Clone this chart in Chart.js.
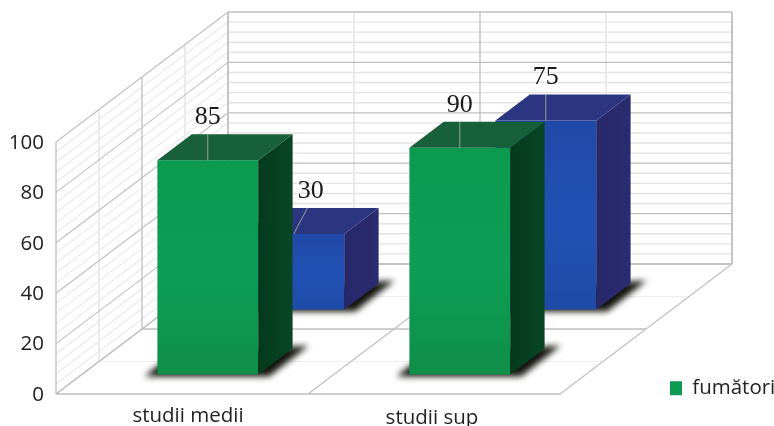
<!DOCTYPE html>
<html>
<head>
<meta charset="utf-8">
<title>fumători</title>
<script src="https://cdn.jsdelivr.net/npm/chart.js@4"></script>
<style>
    html, body { margin: 0; padding: 0; background: #fff; }
    #wrap { position: relative; width: 774px; height: 426px; overflow: hidden; }
</style>
</head>
<body>
<div id="wrap"><canvas id="chart" width="774" height="426"></canvas></div>
<script>
const categories = ["studii medii", "studii sup"];
const smokers = [85, 90];
const others = [30, 75];
const yTicks = [0, 20, 40, 60, 80, 100];

// how far the box recedes into the picture
const DEPTH_X = 172;
const DEPTH_Y = 130;
const SLOTS = 2;
const MINOR_STEP = 4;

const GREEN = { front: ["#0b9a50", "#0d9d54", "#0f8f49"], side: ["#043a1c", "#084626"], top: "#17603a" };
const BLUE = { front: ["#2049a8", "#2251b6", "#1f4aa6"], side: ["#27286a", "#2b2c70"], top: "#2b3580" };

function line(ctx, x1, y1, x2, y2, color, width) {
    ctx.strokeStyle = color;
    ctx.lineWidth = width;
    ctx.beginPath();
    ctx.moveTo(x1, y1);
    ctx.lineTo(x2, y2);
    ctx.stroke();
}

function poly(ctx, pts, fill) {
    ctx.fillStyle = fill;
    ctx.beginPath();
    pts.forEach((p, i) => i ? ctx.lineTo(p[0], p[1]) : ctx.moveTo(p[0], p[1]));
    ctx.closePath();
    ctx.fill();
}

function drawWalls(chart) {
    const ctx = chart.ctx;
    const { left, right, bottom } = chart.chartArea;
    const yScale = chart.scales.y;
    const xScale = chart.scales.x;
    const MAJOR = "#bfbfbf";
    const MINOR = "#e3e3e3";
    const FAINT = "#ebebeb";
    const wallTop = yScale.getPixelForValue(100) - DEPTH_Y;
    const band = (right - left) / categories.length;

    // minor lines first so the major ones sit on top
    for (let v = 0; v <= 100; v += MINOR_STEP) {
        if (v % 20 === 0) continue;
        const y = yScale.getPixelForValue(v);
        line(ctx, left + DEPTH_X, y - DEPTH_Y, right + DEPTH_X, y - DEPTH_Y, MINOR, 1.4);
        line(ctx, left, y, left + DEPTH_X, y - DEPTH_Y, FAINT, 1.2);
    }

    // faint verticals at category centres and at the quarter depths
    categories.forEach((c, i) => {
        const x = xScale.getPixelForValue(i) + DEPTH_X;
        line(ctx, x, wallTop, x, bottom - DEPTH_Y, FAINT, 2);
    });
    [0.25, 0.75].forEach(d => {
        const x = left + DEPTH_X * d;
        line(ctx, x, bottom - DEPTH_Y * d, x, yScale.getPixelForValue(100) - DEPTH_Y * d, FAINT, 2);
        line(ctx, x, bottom - DEPTH_Y * d, right + DEPTH_X * d, bottom - DEPTH_Y * d, "#eeeeee", 1.2);
    });

    yTicks.forEach(v => {
        const y = yScale.getPixelForValue(v);
        line(ctx, left + DEPTH_X, y - DEPTH_Y, right + DEPTH_X, y - DEPTH_Y, MAJOR, 1.3);
        line(ctx, left, y, left + DEPTH_X, y - DEPTH_Y, MAJOR, 1.1);
    });

    // wall corners and the mid depth divider
    [0, 0.5, 1].forEach(d => {
        const x = left + DEPTH_X * d;
        line(ctx, x, bottom - DEPTH_Y * d, x, yScale.getPixelForValue(100) - DEPTH_Y * d, MAJOR, 1.3);
        line(ctx, x, bottom - DEPTH_Y * d, x + right - left, bottom - DEPTH_Y * d, MAJOR, 1.3);
    });
    line(ctx, right + DEPTH_X, wallTop, right + DEPTH_X, bottom - DEPTH_Y, MAJOR, 1.5);

    // floor lines running back from the category borders
    for (let i = 0; i <= categories.length; i++) {
        const x = left + band * i;
        line(ctx, x, bottom, x + DEPTH_X, bottom - DEPTH_Y, MAJOR, 1.1);
        line(ctx, x + DEPTH_X, wallTop, x + DEPTH_X, bottom - DEPTH_Y, MAJOR, 1.3);
    }
}

function drawBox(chart, bar, slot, colors) {
    const ctx = chart.ctx;
    const near = (slot + 0.5 - 0.2) / SLOTS;
    const far = (slot + 0.5 + 0.2) / SLOTS;
    const x0 = bar.x - bar.width / 2 + DEPTH_X * near;
    const x1 = x0 + bar.width;
    const top = bar.y - DEPTH_Y * near;
    const base = bar.base - DEPTH_Y * near;
    const dx = DEPTH_X * (far - near);
    const dy = DEPTH_Y * (far - near);

    // contact shadow along the foot of the box
    ctx.save();
    ctx.filter = "blur(3px)";
    poly(ctx, [
        [x0 - 13, base + 2], [x0 + 2, base - 10], [x1 + dx, base - dy - 2],
        [x1 + dx + 16, base - dy - 3], [x1 + 11, base + 2]
    ], "#14140f");
    ctx.restore();

    const front = ctx.createLinearGradient(0, top, 0, base);
    front.addColorStop(0, colors.front[0]);
    front.addColorStop(0.55, colors.front[1]);
    front.addColorStop(1, colors.front[2]);
    poly(ctx, [[x0, top], [x1, top], [x1, base], [x0, base]], front);

    const side = ctx.createLinearGradient(x1, 0, x1 + dx, 0);
    side.addColorStop(0, colors.side[0]);
    side.addColorStop(1, colors.side[1]);
    poly(ctx, [[x1, top], [x1 + dx, top - dy], [x1 + dx, base - dy], [x1, base]], side);

    poly(ctx, [[x0, top], [x1, top], [x1 + dx, top - dy], [x0 + dx, top - dy]], colors.top);
}

const box3d = {
    id: "box3d",
    afterLayout(chart) {
        // the legend sits low on the right, next to the floor
        const legend = chart.legend;
        legend.left = 670 - legend.options.labels.padding;
        legend.right = legend.left + legend.width;
        legend.top = 378 - legend.options.labels.padding;
        legend.bottom = legend.top + legend.height;
        legend.adjustHitBoxes();
    },
    beforeDraw(chart) {
        // category captions are not quite centred under their bars
        const xScale = chart.scales.x;
        xScale.getLabelItems(chart.chartArea).forEach((item, i) => {
            item.options.translation[0] = xScale.getPixelForTick(i) + [6, -2][i];
            item.options.translation[1] = xScale.top + 10 + [0, 2][i];
        });
        const yScale = chart.scales.y;
        yScale.getLabelItems(chart.chartArea).forEach((item, i) => {
            item.options.translation[1] = yScale.getPixelForTick(i) + 1;
        });
    },
    beforeDatasetsDraw(chart) {
        drawWalls(chart);
    },
    beforeDatasetDraw(chart, args) {
        const set = chart.data.datasets[args.index];
        args.meta.data.forEach(bar => drawBox(chart, bar, args.index, set.faces));
        return false;
    },
    afterDatasetsDraw(chart) {
        const ctx = chart.ctx;
        chart.data.datasets.forEach((set, di) => {
            const near = (di + 0.5 - 0.2) / SLOTS;
            const far = (di + 0.5 + 0.2) / SLOTS;
            chart.getDatasetMeta(di).data.forEach((bar, i) => {
                const x = bar.x + DEPTH_X * near;
                const y = bar.y - DEPTH_Y * near;
                // the short bar's label moves clear of the bar in front of it
                const shift = di === 1 && i === 0 ? 17 : 0;
                const rise = DEPTH_Y * (far - near);
                line(ctx, x, y, x + shift * 0.8, y - rise, "rgba(190,195,170,0.75)", 1);
                ctx.fillStyle = "#1a1a1a";
                ctx.font = '26px "Liberation Serif"';
                ctx.textAlign = "center";
                ctx.textBaseline = "middle";
                ctx.fillText(set.data[i], x + shift, y - 43);
            });
        });
    }
};

new Chart(document.getElementById("chart"), {
    type: "bar",
    data: {
        labels: categories,
        datasets: [
            { label: "fumători", data: smokers, backgroundColor: "#0c9a52", faces: GREEN, order: 1 },
            { label: "nefumători", data: others, backgroundColor: "#2251b6", faces: BLUE, order: 2 }
        ]
    },
    options: {
        responsive: false,
        animation: false,
        layout: { padding: { top: 142, right: 214, left: 0, bottom: 0 } },
        datasets: { bar: { grouped: false, categoryPercentage: 0.4, barPercentage: 1 } },
        scales: {
            x: {
                afterFit: s => { s.height = 32; },
                grid: { display: false },
                border: { display: false },
                ticks: { color: "#222", padding: 4, maxRotation: 0, font: { family: "Open Sans", size: 20.5 } }
            },
            y: {
                min: 0,
                max: 100,
                afterFit: s => { s.width = 56; },
                afterBuildTicks: s => { s.ticks = yTicks.map(v => ({ value: v })); },
                grid: { display: false },
                border: { display: false },
                ticks: { color: "#222", padding: 4, font: { family: "Open Sans", size: 20.5 } }
            }
        },
        plugins: {
            tooltip: { enabled: false },
            legend: {
                position: "chartArea",
                align: "start",
                labels: {
                    boxWidth: 12,
                    boxHeight: 14,
                    padding: 4,
                    color: "#222",
                    font: { family: "Open Sans", size: 20.5 },
                    filter: item => item.text === "fumători"
                }
            }
        }
    },
    plugins: [box3d]
});
</script>
</body>
</html>
